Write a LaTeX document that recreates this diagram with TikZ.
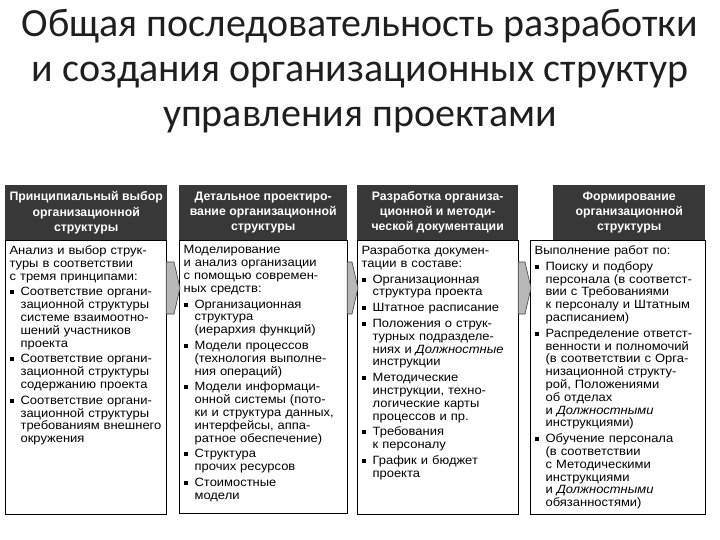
\documentclass[tikz,border=0pt]{standalone}
\usepackage{fontspec}
\setmainfont{Liberation Sans}
\newfontfamily\titlefont{Carlito}
\newfontfamily\boxfont[FakeStretch=1.08]{Liberation Sans}
\usetikzlibrary{positioning,calc}

% bullet and list item with hanging indent
\newcommand{\blt}{\makebox[11pt][l]{\rule[1.5pt]{4pt}{4pt}}}
\newcommand{\itm}[1]{\par\vspace{3pt}\hangindent=11pt\hangafter=1\noindent\blt{\let\\\newline #1}\par}

\begin{document}
\begin{tikzpicture}[x=1pt,y=-1pt]
	\useasboundingbox (0,0) rectangle (720,540);

	\node(title)[font=\titlefont\fontsize{40}{45}\selectfont, align=center, text=black!88] at (360,71)
		{Общая последовательность разработки\\и создания организационных структур\\управления проектами};

	\begin{scope}
		[
			styleHead/.style={
				fill=black!78, text=white, align=center,
				font=\bfseries\fontsize{12.3}{15}\selectfont,
				anchor=north west, minimum width=#1, minimum height=55pt, inner sep=2pt
				},
			styleBody/.style={
				draw, line width=1.2pt, align=left,
				font=\boxfont\fontsize{12}{12.8}\selectfont,
				anchor=north west, text width=#1, text depth=255pt,
				inner xsep=4pt, inner ysep=5pt
				},
		]
		\node(hdr1)[styleHead=162] at (5,185) {Принципиальный выбор\\организационной\\структуры};
		\node(body1)[styleBody=153pt] at (5,240) {Анализ и выбор струк-\\туры в соответствии\\с тремя принципами:
			\itm{Соответствие органи-\\зационной структуры\\системе взаимоотно-\\шений участников\\проекта}
			\itm{Соответствие органи-\\зационной структуры\\содержанию проекта}
			\itm{Соответствие органи-\\зационной структуры\\требованиям внешнего\\окружения}};

		\node(hdr2)[styleHead=168] at (179,185) {Детальное проектиро-\\вание организационной\\структуры};
		\node(body2)[styleBody=160pt] at (179,240) {Моделирование\\и анализ организации\\с помощью современ-\\ных средств:
			\itm{Организационная\\структура\\(иерархия функций)}
			\itm{Модели процессов\\(технология выполне-\\ния операций)}
			\itm{Модели информаци-\\онной системы (пото-\\ки и структура данных,\\интерфейсы, аппа-\\ратное обеспечение)}
			\itm{Структура\\прочих ресурсов}
			\itm{Стоимостные\\модели}};

		\node(hdr3)[styleHead=161] at (357,185) {Разработка организа-\\ционной и методи-\\ческой документации};
		\node(body3)[styleBody=153pt] at (357,240) {Разработка докумен-\\тации в составе:
			\itm{Организационная\\структура проекта}
			\itm{Штатное расписание}
			\itm{Положения о струк-\\турных подразделе-\\ниях и \textit{Должностные}\\инструкции}
			\itm{Методические\\инструкции, техно-\\логические карты\\процессов и пр.}
			\itm{Требования\\к персоналу}
			\itm{График и бюджет\\проекта}};

		\node(hdr4)[styleHead=152] at (553,185) {Формирование\\организационной\\структуры};
		\node(body4)[styleBody=167pt] at (530,240) {Выполнение работ по:
			\itm{Поиску и подбору\\персонала (в соответст-\\вии с Требованиями\\к персоналу и Штатным\\расписанием)}
			\itm{Распределение ответст-\\венности и полномочий\\(в соответствии с Орга-\\низационной структу-\\рой, Положениями\\об отделах\\и \textit{Должностными}\\инструкциями)}
			\itm{Обучение персонала\\(в соответствии\\с Методическими\\инструкциями\\и \textit{Должностными}\\обязанностями)}};
	\end{scope}

	\begin{scope}
		[styleArrow/.style={fill=black!28, draw=black!75, line width=0.6pt}]
		\path[styleArrow] ($(body1.north east)+(-1,22)$) -- ($(body2.north west)+(-5,22)$) -- ($(body2.north west)+(1,48)$)
			-- ($(body2.north west)+(-5,74)$) -- ($(body1.north east)+(-1,74)$) -- cycle;
		\path[styleArrow] ($(body2.north east)+(-1,22)$) -- ($(body3.north west)+(-5,22)$) -- ($(body3.north west)+(1,48)$)
			-- ($(body3.north west)+(-5,74)$) -- ($(body2.north east)+(-1,74)$) -- cycle;
		\path[styleArrow] ($(body3.north east)+(-1,22)$) -- ($(body4.north west)+(-5,22)$) -- ($(body4.north west)+(1,48)$)
			-- ($(body4.north west)+(-5,74)$) -- ($(body3.north east)+(-1,74)$) -- cycle;
	\end{scope}
\end{tikzpicture}
\end{document}
